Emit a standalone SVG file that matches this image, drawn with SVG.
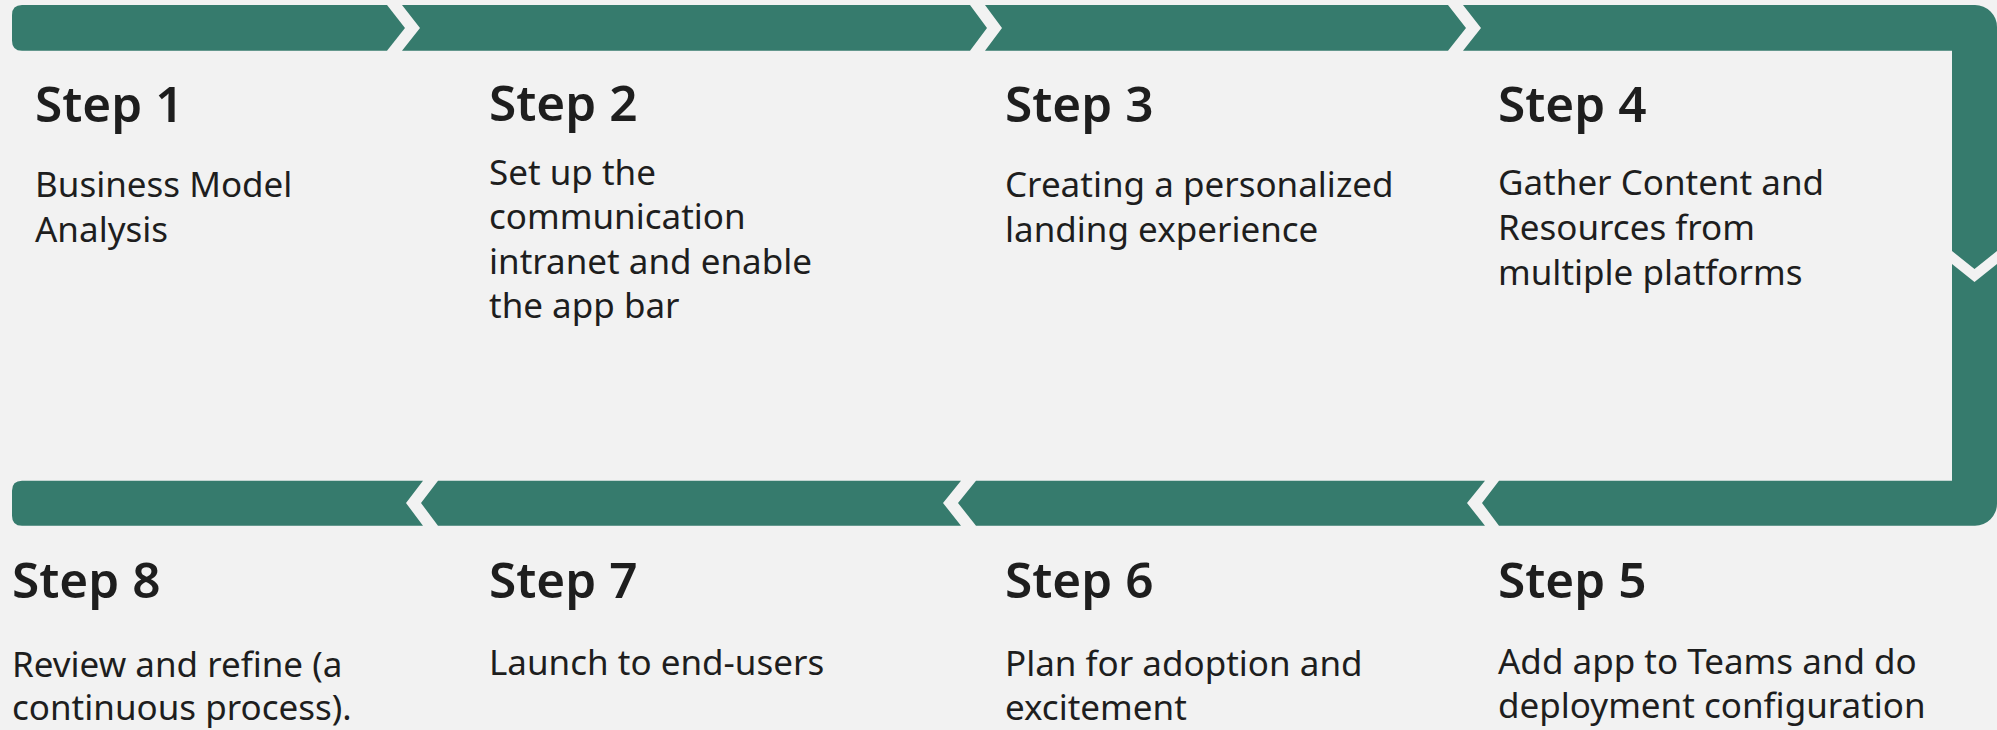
<svg xmlns="http://www.w3.org/2000/svg" width="1997" height="730" viewBox="0 0 1997 730">
<style>
.bg{fill:#F2F2F2}
.seg{fill:#367B6D}
.h{font-family:"Segoe UI","Noto Sans","Open Sans",sans-serif;font-weight:600;font-size:49.5px;fill:#1E1E1E}
.b{font-family:"Segoe UI","Noto Sans","Open Sans",sans-serif;font-weight:400;font-size:35px;fill:#1E1E1E}
</style>
<rect class="bg" x="0" y="0" width="1997" height="730"/>
<g id="connectors"></g>
<g id="step1">
<path class="seg" d="M22,5 L387,5 L405,28 L387,50.7 L22,50.7 Q12,50.7 12,40.7 L12,15 Q12,5 22,5 Z"/>
<text class="h" x="35" y="122">Step 1</text>
<text class="b" x="35" y="197">Business Model</text>
<text class="b" x="35" y="242">Analysis</text>
</g>
<g id="step2">
<path class="seg" d="M402,5 L970,5 L987,28 L970,50.7 L402,50.7 L420,28 Z"/>
<text class="h" x="489" y="121">Step 2</text>
<text class="b" x="489" y="185">Set up the</text>
<text class="b" x="489" y="229">communication</text>
<text class="b" x="489" y="274">intranet and enable</text>
<text class="b" x="489" y="318">the app bar</text>
</g>
<g id="step3">
<path class="seg" d="M985,5 L1448,5 L1466,28 L1448,50.7 L985,50.7 L1002,28 Z"/>
<text class="h" x="1005" y="122">Step 3</text>
<text class="b" x="1005" y="197">Creating a personalized</text>
<text class="b" x="1005" y="242">landing experience</text>
</g>
<g id="step4">
<path class="seg" d="M1463,5 L1975,5 A22,22 0 0 1 1997,27 L1997,251 L1974.5,269 L1952,251 L1952,50.7 L1463,50.7 L1481,28 Z"/>
<text class="h" x="1498" y="122">Step 4</text>
<text class="b" x="1498" y="195">Gather Content and</text>
<text class="b" x="1498" y="240">Resources from</text>
<text class="b" x="1498" y="285">multiple platforms</text>
</g>
<g id="step5">
<path class="seg" d="M1952,264 L1974.5,282 L1997,264 L1997,503.7 A22,22 0 0 1 1975,525.7 L1499,525.7 L1482,503 L1499,480.7 L1952,480.7 Z"/>
<text class="h" x="1498" y="598">Step 5</text>
<text class="b" x="1498" y="674">Add app to Teams and do</text>
<text class="b" x="1498" y="718">deployment configuration</text>
</g>
<g id="step6">
<path class="seg" d="M1485,480.7 L1467,503 L1485,525.7 L976,525.7 L958,503 L976,480.7 Z"/>
<text class="h" x="1005" y="598">Step 6</text>
<text class="b" x="1005" y="676">Plan for adoption and</text>
<text class="b" x="1005" y="720">excitement</text>
</g>
<g id="step7">
<path class="seg" d="M961,480.7 L943,503 L961,525.7 L438,525.7 L421,503 L438,480.7 Z"/>
<text class="h" x="489" y="598">Step 7</text>
<text class="b" x="489" y="675">Launch to end-users</text>
</g>
<g id="step8">
<path class="seg" d="M423,480.7 L406,503 L423,525.7 L22,525.7 Q12,525.7 12,515.7 L12,490.7 Q12,480.7 22,480.7 Z"/>
<text class="h" x="12" y="598">Step 8</text>
<text class="b" x="12" y="677">Review and refine (a</text>
<text class="b" x="12" y="720">continuous process).</text>
</g>
</svg>
